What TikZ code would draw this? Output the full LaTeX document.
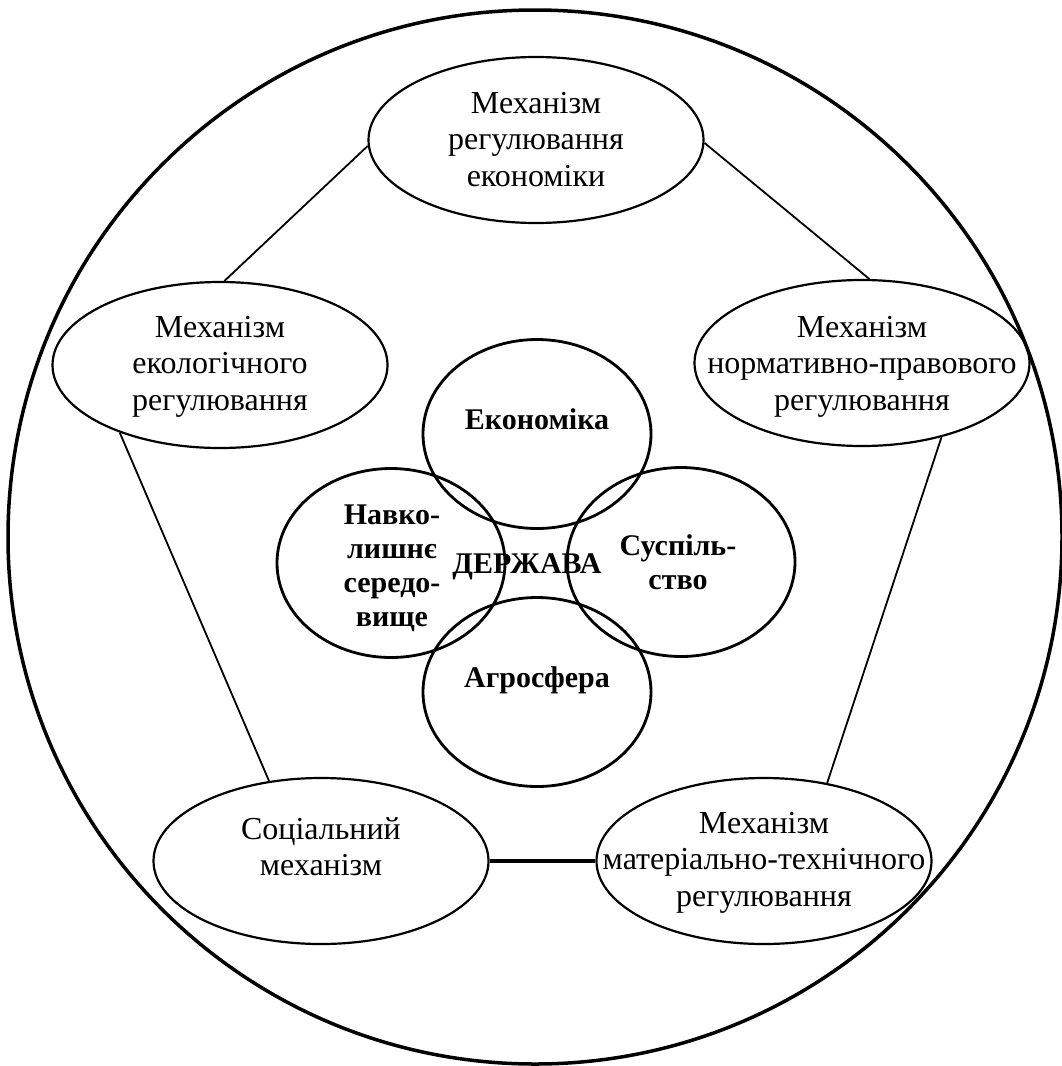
\documentclass[tikz,border=0pt]{standalone}
\usepackage{fontspec}
\setmainfont{Liberation Serif}
\usetikzlibrary{shapes.geometric}
\newcommand{\mltext}[1]{\begin{tabular}[t]{@{}c@{}}#1\end{tabular}}
\tikzset{
  frame/.style={draw, circle, line width=3.5pt, minimum size=1054pt, inner sep=0pt},
  outer/.style={draw, ellipse, line width=2.2pt, minimum width=335pt, minimum height=166pt, inner sep=0pt},
  innerell/.style={draw, ellipse, line width=2.8pt, minimum width=228pt, minimum height=189pt, inner sep=0pt},
  outtxt/.style={anchor=base, inner sep=0pt, font=\fontsize{32}{36.5}\selectfont},
  intxt/.style={anchor=base, inner sep=0pt, font=\bfseries\fontsize{30}{34}\selectfont},
  link/.style={line width=1.8pt},
  thicklink/.style={line width=3.2pt},
}
\begin{document}
\begin{tikzpicture}[x=1pt,y=-1pt]
\useasboundingbox (0,0) rectangle (1061,1066);
% outer frame
\node[frame] (fr) at (535,537) {};
% mechanism ellipses
\node[outer] (top) at (536,140) {};
\node[outer] (eco) at (220,365) {};
\node[outer] (norm) at (862,363) {};
\node[outer] (soc) at (321,861) {};
\node[outer] (mat) at (764,861) {};
% inner ellipses
\node[innerell] (ek) at (537,434) {};
\node[innerell] (nav) at (391,563) {};
\node[innerell] (sus) at (681,562) {};
\node[innerell] (agr) at (537,692) {};
% connectors
\draw[link] (top.182) -- (eco.87);
\draw[link] (top.-1) -- (norm.85);
\draw[link] (eco.214) -- (soc.123);
\draw[link] (norm.-43) -- (mat.51);
\draw[thicklink] (soc.east) -- (mat.west);
% mechanism texts
\node[outtxt] (ttop) at (536,113) {\mltext{Механізм\\регулювання\\економіки}};
\node[outtxt] (teco) at (220,337) {\mltext{Механізм\\екологічного\\регулювання}};
\node[outtxt] (tnorm) at (862,337) {\mltext{Механізм\\нормативно-правового\\регулювання}};
\node[outtxt] (tsoc) at (321,839) {\mltext{Соціальний\\механізм}};
\node[outtxt] (tmat) at (764,833) {\mltext{Механізм\\матеріально-технічного\\регулювання}};
% inner texts
\node[intxt] (tek) at (537,429) {Економіка};
\node[intxt] (tagr) at (537,687) {Агросфера};
\node[intxt] (tnav) at (392,524) {\mltext{Навко-\\лишнє\\середо-\\вище}};
\node[intxt] (tsus) at (678,555) {\mltext{Суспіль-\\ство}};
\node[intxt] (tder) at (527,573) {ДЕРЖАВА};
\end{tikzpicture}
\end{document}
